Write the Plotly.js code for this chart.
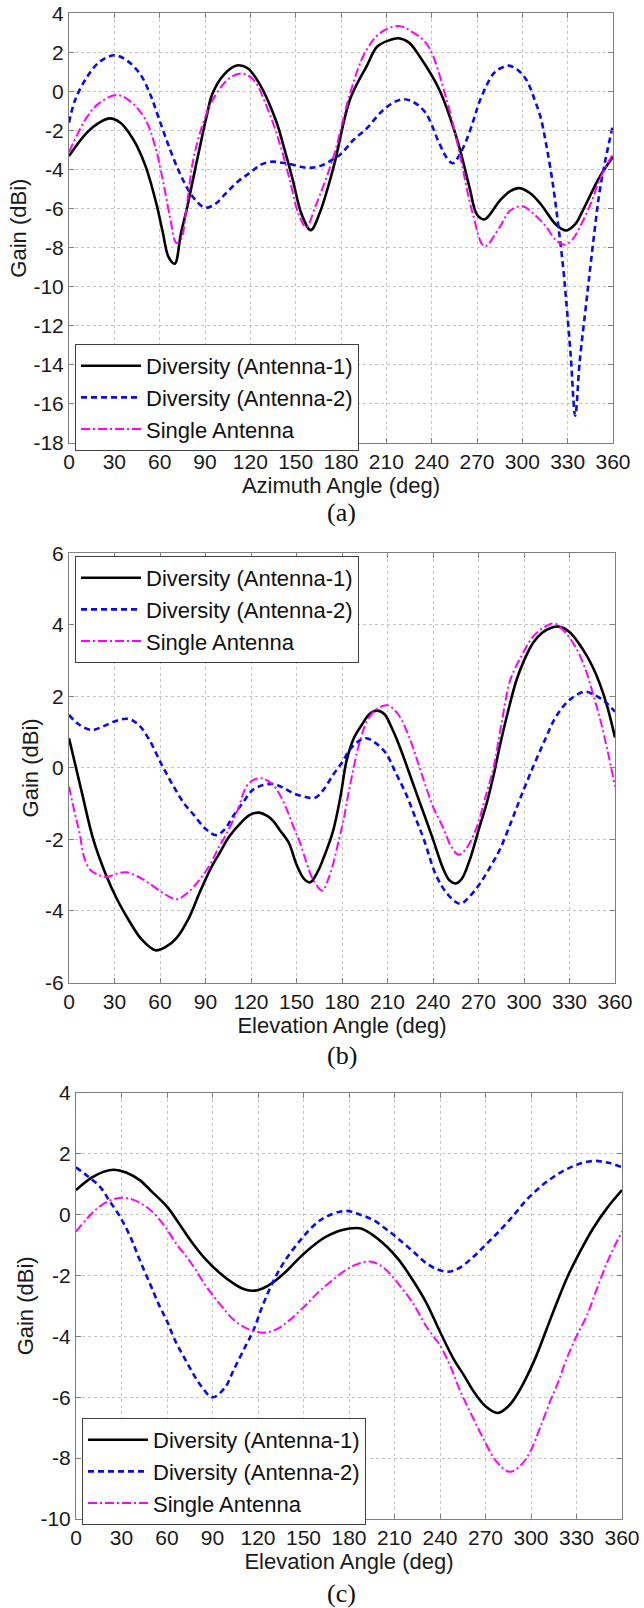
<!DOCTYPE html>
<html>
<head>
<meta charset="utf-8">
<script src="https://cdn.plot.ly/plotly-3.0.1.min.js"></script>
<style>
  html, body { margin: 0; padding: 0; background: #ffffff; }
  #chart { width: 644px; height: 1608px; }
</style>
</head>
<body>
<div id="chart"></div>
<script>
// ---------------- DATA ----------------
const seriesNames = ["Diversity (Antenna-1)", "Diversity (Antenna-2)", "Single Antenna"];

// Panel (a): Azimuth
const angA_ant1  = [0, 12, 20, 27, 34, 40, 45, 51, 58, 62, 66, 70, 74, 78, 81, 87, 91, 95, 103, 111, 118, 126, 137, 142, 148, 154, 160, 166, 175, 186, 197, 204, 212, 218, 225, 232, 245, 257, 265, 270, 275, 285, 292, 298, 305, 312, 322, 329, 335, 340, 351, 360];
const gainA_ant1 = [-3.3, -2.1, -1.6, -1.38, -1.6, -2.15, -2.8, -3.9, -5.8, -7.2, -8.5, -8.82, -7.3, -6.0, -4.9, -2.7, -1.3, -0.1, 0.9, 1.33, 1.2, 0.4, -1.5, -2.8, -4.5, -6.3, -7.1, -6.2, -3.9, -0.4, 1.3, 2.3, 2.62, 2.72, 2.5, 1.8, 0.1, -2.5, -4.9, -6.3, -6.55, -5.6, -5.1, -4.95, -5.2, -5.75, -6.8, -7.12, -6.8, -6.1, -4.4, -3.35];

const angA_ant2  = [0, 4, 12, 20, 30, 38, 47, 54, 60, 67, 74, 82, 90, 97, 104, 112, 120, 127, 134, 141, 148, 155, 161, 167, 173, 180, 188, 197, 206, 214, 221, 228, 236, 245, 250, 254, 258, 263, 268, 272, 281, 286, 291, 297, 303, 308, 312, 316, 320.5, 324, 327, 329, 332, 335, 338, 342.5, 345, 348, 351, 355, 360];
const gainA_ant2 = [-1.6, -0.45, 0.75, 1.5, 1.85, 1.6, 0.9, -0.2, -1.5, -3.0, -4.3, -5.4, -5.95, -5.75, -5.2, -4.6, -4.15, -3.75, -3.6, -3.65, -3.75, -3.88, -3.9, -3.8, -3.55, -3.2, -2.5, -1.9, -1.1, -0.6, -0.4, -0.55, -1.1, -2.65, -3.4, -3.68, -3.3, -2.5, -1.4, -0.45, 0.92, 1.2, 1.32, 1.1, 0.55, -0.4, -1.3, -2.8, -4.9, -7.0, -9.0, -10.7, -13.5, -16.6, -13.8, -10.7, -9.0, -7.0, -5.2, -3.5, -1.7];

const angA_single  = [0, 12, 20, 32, 42, 51, 57, 62, 67, 71, 74, 78, 82, 88, 95, 105, 114, 122, 131, 140, 146, 152, 157, 163, 175, 186, 196, 206, 218, 226, 237, 250, 258, 267, 275, 285, 292, 300, 308, 316, 322, 328, 333, 338, 345, 351, 360];
const gainA_single = [-3.1, -1.3, -0.6, -0.18, -0.6, -1.5, -2.8, -4.5, -6.5, -7.75, -7.6, -5.8, -3.6, -1.8, -0.45, 0.6, 0.92, 0.6, -0.8, -2.8, -4.5, -6.3, -6.95, -5.9, -3.35, -0.1, 2.0, 3.0, 3.35, 3.1, 2.4, -0.45, -3.0, -6.2, -7.93, -6.95, -6.1, -5.88, -6.3, -6.95, -7.6, -7.85, -7.6, -6.95, -5.8, -4.55, -3.18];

// Panel (b): Elevation
const angB_ant1  = [0, 8, 16, 24, 32, 40, 48, 57, 64, 71, 79, 86, 93, 99, 106, 113, 119, 125, 131, 135, 139, 145, 150, 155, 159, 164, 168, 174, 179, 183, 188, 193, 198, 203, 208, 213, 218, 224, 229, 235, 240, 247, 251, 255, 259, 264, 271, 275, 280, 284, 289, 295, 300, 306, 312, 318, 323, 330, 339, 345, 350, 355, 360];
const gainB_ant1 = [0.83, -0.6, -2.0, -2.95, -3.7, -4.3, -4.8, -5.1, -5.0, -4.75, -4.2, -3.5, -2.85, -2.4, -1.9, -1.55, -1.32, -1.25, -1.35, -1.5, -1.74, -2.1, -2.7, -3.1, -3.2, -2.9, -2.5, -1.78, -0.8, 0.2, 0.85, 1.2, 1.5, 1.6, 1.5, 1.1, 0.6, -0.1, -0.7, -1.4, -2.0, -2.85, -3.15, -3.23, -3.1, -2.6, -1.6, -1.05, -0.2, 0.6, 1.5, 2.45, 3.0, 3.5, 3.78, 3.92, 3.95, 3.8, 3.3, 2.85, 2.35, 1.7, 0.85];

const angB_ant2  = [0, 7, 15, 22, 30, 39, 46, 53, 61, 69, 76, 82, 90, 97, 103, 108, 115, 121, 128, 135, 141, 148, 155, 162, 168, 174, 180, 185, 191, 196, 202, 209, 215, 222, 228, 234, 242, 250, 258, 264, 271, 278, 284, 292, 298, 306, 314, 321, 330, 340, 346, 352, 356, 360];
const gainB_ant2 = [1.48, 1.2, 1.06, 1.15, 1.3, 1.37, 1.2, 0.78, 0.1, -0.52, -1.0, -1.3, -1.7, -1.88, -1.7, -1.36, -0.95, -0.62, -0.48, -0.45, -0.55, -0.71, -0.8, -0.84, -0.6, -0.2, 0.15, 0.5, 0.75, 0.83, 0.7, 0.41, -0.1, -0.71, -1.35, -2.0, -3.0, -3.55, -3.8, -3.6, -3.23, -2.75, -2.29, -1.46, -0.8, 0.03, 0.8, 1.43, 1.9, 2.13, 2.05, 1.9, 1.75, 1.57];

const angB_single  = [0, 4, 7, 10, 14, 20, 25, 32, 38, 46, 53, 62, 71, 78, 86, 93, 99, 104, 111, 117, 122, 127, 134, 139, 144, 148, 152, 157, 161, 167, 171, 174, 178, 181, 185, 192, 197, 203, 210, 217, 225, 232, 240, 247, 252, 257, 262, 269, 274, 280, 285, 291, 298, 306, 314, 320, 327, 335, 341, 346, 350, 355, 360];
const gainB_single = [-0.52, -1.3, -1.83, -2.5, -2.85, -3.0, -3.05, -2.95, -2.92, -3.05, -3.23, -3.5, -3.67, -3.5, -3.13, -2.7, -2.2, -1.83, -1.2, -0.52, -0.33, -0.29, -0.45, -0.75, -1.2, -1.65, -2.05, -2.7, -3.13, -3.43, -3.1, -2.71, -2.0, -1.46, -0.55, 0.78, 1.35, 1.65, 1.75, 1.5, 0.78, -0.1, -1.08, -1.7, -2.2, -2.43, -2.25, -1.64, -0.9, 0.03, 1.2, 2.46, 3.1, 3.67, 3.95, 4.04, 3.8, 3.3, 2.7, 1.99, 1.4, 0.5, -0.52];

// Panel (c): Elevation
const angC_ant1  = [0, 10, 18, 25, 33, 42, 50, 60, 68, 77, 86, 95, 105, 112, 118, 125, 132, 140, 148, 157, 165, 175, 187, 195, 205, 213, 222, 231, 240, 249, 256, 262, 270, 278, 285, 290, 296, 303, 310, 317, 324, 332, 341, 350, 360];
const gainC_ant1 = [0.8, 1.2, 1.4, 1.47, 1.38, 1.13, 0.75, 0.26, -0.3, -0.95, -1.5, -1.93, -2.3, -2.47, -2.5, -2.38, -2.15, -1.8, -1.39, -1.0, -0.73, -0.52, -0.45, -0.65, -1.06, -1.5, -2.15, -2.9, -3.85, -4.75, -5.3, -5.8, -6.3, -6.52, -6.3, -5.98, -5.45, -4.7, -3.8, -2.9, -2.05, -1.25, -0.45, 0.2, 0.8];

const angC_ant2  = [0, 8, 16, 22, 29, 36, 42, 49, 55, 60, 65, 73, 82, 90, 98, 104, 112, 117, 123, 130, 138, 148, 157, 165, 178, 187, 196, 205, 214, 223, 231, 238, 245, 252, 262, 271, 280, 289, 297, 306, 315, 324, 333, 342, 351, 360];
const gainC_ant2 = [1.55, 1.25, 0.9, 0.45, -0.07, -0.75, -1.49, -2.3, -3.0, -3.5, -4.1, -4.85, -5.6, -6.0, -5.7, -5.1, -4.3, -3.8, -3.0, -2.2, -1.5, -0.84, -0.35, -0.07, 0.12, 0.0, -0.18, -0.5, -0.86, -1.25, -1.6, -1.8, -1.88, -1.78, -1.39, -0.95, -0.5, 0.0, 0.48, 0.9, 1.24, 1.5, 1.68, 1.76, 1.7, 1.55];

const angC_single  = [0, 7, 14, 22, 30, 38, 49, 58, 66, 76, 86, 95, 104, 113, 124, 133, 141, 150, 159, 168, 178, 186, 195, 204, 214, 222, 231, 240, 247, 253, 261, 269, 277, 286, 293, 299, 306, 313, 318, 323, 330, 337, 343, 350, 355, 360];
const gainC_single = [-0.56, -0.15, 0.2, 0.45, 0.55, 0.48, 0.15, -0.35, -0.95, -1.6, -2.37, -2.95, -3.46, -3.75, -3.88, -3.75, -3.46, -3.05, -2.59, -2.2, -1.82, -1.62, -1.55, -1.8, -2.37, -2.9, -3.68, -4.3, -5.0, -5.76, -6.6, -7.4, -8.1, -8.45, -8.25, -7.84, -7.0, -6.09, -5.5, -4.8, -4.0, -3.3, -2.5, -1.6, -1.05, -0.56];

// Axis ticks / labels
const xTickVals = [0, 30, 60, 90, 120, 150, 180, 210, 240, 270, 300, 330, 360];
const xTickText = ["0", "30", "60", "90", "120", "150", "180", "210", "240", "270", "300", "330", "360"];
const yTickValsA = [-18, -16, -14, -12, -10, -8, -6, -4, -2, 0, 2, 4];
const yTickTextA = ["-18", "-16", "-14", "-12", "-10", "-8", "-6", "-4", "-2", "0", "2", "4"];
const yTickValsB = [-6, -4, -2, 0, 2, 4, 6];
const yTickTextB = ["-6", "-4", "-2", "0", "2", "4", "6"];
const yTickValsC = [-10, -8, -6, -4, -2, 0, 2, 4];
const yTickTextC = ["-10", "-8", "-6", "-4", "-2", "0", "2", "4"];
const xTitles = ["Azimuth Angle (deg)", "Elevation Angle (deg)", "Elevation Angle (deg)"];
const yTitle = "Gain (dBi)";
const captions = ["(a)", "(b)", "(c)"];

// ---------------- STYLE / LAYOUT ----------------
const W = 644, H = 1608;
const SANS = "Liberation Sans, Arial, Helvetica, sans-serif";
const SERIF = "Liberation Serif, Times New Roman, serif";
const styles = [
  {color: "#000000", width: 2.6, dash: "solid"},
  {color: "#0a0af0", width: 2.6, dash: "6px,4px"},
  {color: "#ff00ff", width: 2.0, dash: "9px,3px,2px,3px"}
];

const fx = p => p / W;
const fy = p => 1 - p / H;

// pixel boxes of plot areas [left, right, top, bottom]
const boxes = [
  [69, 613, 13.3, 443],
  [69, 615, 553.3, 982.5],
  [76, 622, 1092.7, 1519]
];

const panels = [
  {ang: [angA_ant1, angA_ant2, angA_single], gain: [gainA_ant1, gainA_ant2, gainA_single], yr: [-18, 4], tv: yTickValsA, tt: yTickTextA},
  {ang: [angB_ant1, angB_ant2, angB_single], gain: [gainB_ant1, gainB_ant2, gainB_single], yr: [-6, 6], tv: yTickValsB, tt: yTickTextB},
  {ang: [angC_ant1, angC_ant2, angC_single], gain: [gainC_ant1, gainC_ant2, gainC_single], yr: [-10, 4], tv: yTickValsC, tt: yTickTextC}
];

// legend positions (pixel top-left)
const legendPos = [[75, 344], [75, 556], [82, 1418]];
const captionPos = [[341, 512], [342, 1055], [341, 1593]];

const traces = [];
const layout = {
  width: W, height: H,
  margin: {l: 0, r: 0, t: 0, b: 0},
  paper_bgcolor: "#ffffff",
  plot_bgcolor: "#ffffff",
  font: {family: SANS, size: 21, color: "#1a1a1a"},
  annotations: []
};

panels.forEach((p, i) => {
  const sfx = i === 0 ? "" : String(i + 1);
  const legKey = i === 0 ? "legend" : "legend" + (i + 1);
  for (let s = 0; s < 3; s++) {
    traces.push({
      type: "scatter", mode: "lines",
      x: p.ang[s], y: p.gain[s],
      name: seriesNames[s],
      xaxis: "x" + sfx, yaxis: "y" + sfx,
      legend: legKey,
      line: {color: styles[s].color, width: styles[s].width, dash: styles[s].dash, shape: "spline", smoothing: 1.0},
      hoverinfo: "x+y+name"
    });
  }
  const b = boxes[i];
  const axCommon = {
    showgrid: true, gridcolor: "#c4c4c4", griddash: "dot", gridwidth: 1,
    zeroline: false, showline: true, linecolor: "#808080", linewidth: 1,
    mirror: "ticks", ticks: "inside", ticklen: 5, tickcolor: "#808080",
    tickfont: {family: SANS, size: 21, color: "#1a1a1a"},
    automargin: false, fixedrange: true
  };
  layout["xaxis" + sfx] = Object.assign({}, axCommon, {
    domain: [fx(b[0]), fx(b[1])], range: [0, 360], anchor: "y" + sfx,
    tickmode: "array", tickvals: xTickVals, ticktext: xTickText,
    title: {text: xTitles[i], font: {family: SANS, size: 22, color: "#1a1a1a"}, standoff: 0}
  });
  layout["yaxis" + sfx] = Object.assign({}, axCommon, {
    domain: [fy(b[3]), fy(b[2])], range: p.yr, anchor: "x" + sfx,
    tickmode: "array", tickvals: p.tv, ticktext: p.tt,
    title: {text: yTitle, font: {family: SANS, size: 22, color: "#1a1a1a"}, standoff: 0}
  });
  layout[legKey] = {
    x: fx(legendPos[i][0]), y: fy(legendPos[i][1]), xanchor: "left", yanchor: "top",
    bgcolor: "#ffffff", bordercolor: "#404040", borderwidth: 1,
    font: {family: SANS, size: 22, color: "#111111"},
    itemwidth: 60,
    tracegroupgap: 0
  };
  layout.annotations.push({
    xref: "paper", yref: "paper", x: fx(captionPos[i][0]), y: fy(captionPos[i][1]),
    xanchor: "center", yanchor: "middle", showarrow: false,
    text: captions[i], font: {family: SERIF, size: 26, color: "#111111"}
  });
});

Plotly.newPlot("chart", traces, layout, {displayModeBar: false, staticPlot: true});
</script>
</body>
</html>
